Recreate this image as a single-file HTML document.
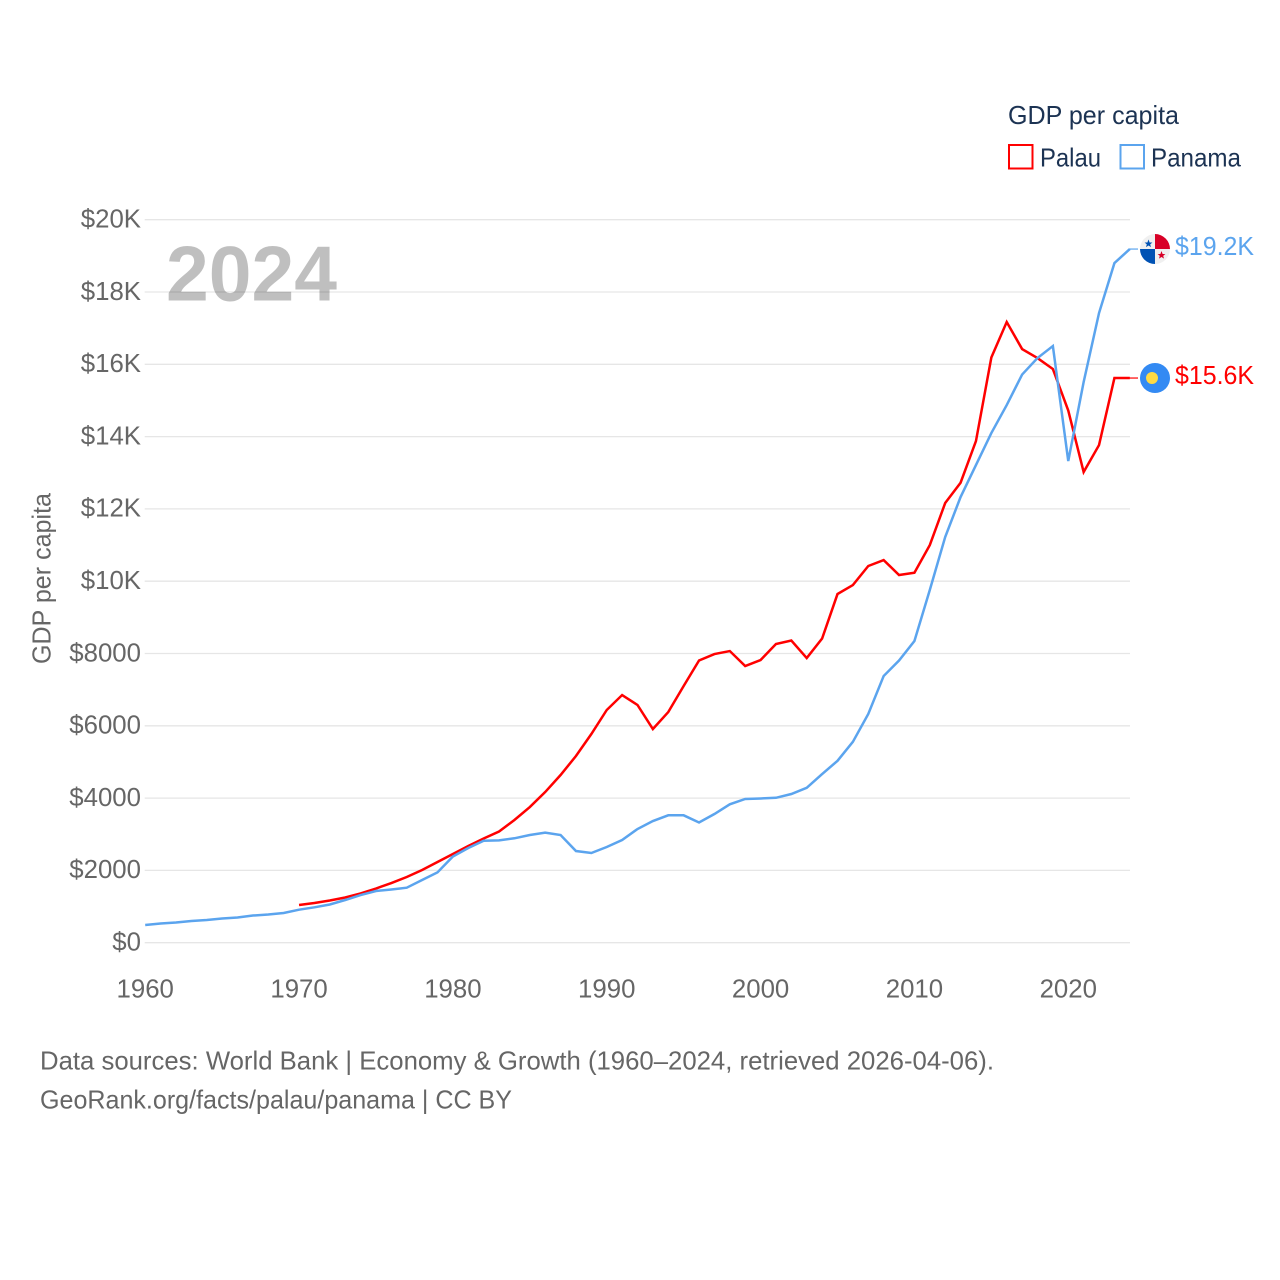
<!DOCTYPE html>
<html lang="en">
<head>
<meta charset="utf-8">
<title>GDP per capita: Palau and Panama</title>
<style>
  html, body { margin: 0; padding: 0; background: #fff; width: 1280px; height: 1280px; overflow: hidden; }
  svg { display: block; }
  text { font-family: "Liberation Sans", sans-serif; }
  .tick { font-size: 25.8px; fill: #666; }
  .legend { font-size: 26px; fill: #1c3353; }
  .foot { font-size: 26px; fill: #666; }
  .end { font-size: 26px; }
</style>
</head>
<body>
<svg id="chart" xmlns="http://www.w3.org/2000/svg" width="1280" height="1280" viewBox="0 0 1280 1280">
  <g id="grid"></g>
  <g id="y-labels"></g>
  <g id="x-labels"></g>

  <text x="166" y="300.5" font-size="78" font-weight="700" fill="#000" fill-opacity="0.25" textLength="171" lengthAdjust="spacingAndGlyphs">2024</text>

  <text class="foot" transform="translate(50.5,664) rotate(-90)" x="0" y="0" textLength="171" lengthAdjust="spacingAndGlyphs">GDP per capita</text>

  <g id="series"></g>

  <g id="flag-panama">
    <circle cx="0" cy="0" r="15" fill="#f0f0f0"/>
    <path d="M0,0V-15A15,15 0 0 1 15,0Z" fill="#d80027"/>
    <path d="M0,0V15A15,15 0 0 1 -15,0Z" fill="#0052b4"/>
    <polygon points="-6.5,-9.5 -5.4,-6.6 -2.6,-6.6 -4.8,-4.7 -4,-1.9 -6.5,-3.5 -9,-1.9 -8.2,-4.7 -10.4,-6.6 -7.6,-6.6" fill="#0052b4"/>
    <polygon points="6.5,2 7.6,4.9 10.4,4.9 8.2,6.8 9,9.6 6.5,8 4,9.6 4.8,6.8 2.6,4.9 5.4,4.9" fill="#d80027"/>
  </g>
  <g id="flag-palau">
    <circle cx="0" cy="0" r="15" fill="#338af3"/>
    <circle cx="-3" cy="0" r="6" fill="#ffda44"/>
  </g>

  <text id="end-panama" class="end" x="1175" y="256" fill="#5ba4ee" textLength="79" lengthAdjust="spacingAndGlyphs">$19.2K</text>
  <text id="end-palau" class="end" x="1175" y="384" fill="#ff0000" textLength="79" lengthAdjust="spacingAndGlyphs">$15.6K</text>

  <g>
    <text class="legend" x="1008" y="124" textLength="171" lengthAdjust="spacingAndGlyphs">GDP per capita</text>
    <g>
      <rect x="1009" y="145" width="23.5" height="23.5" fill="#fff" stroke="#ff0000" stroke-width="2"/>
      <text class="legend" x="1040" y="166.5" textLength="61" lengthAdjust="spacingAndGlyphs">Palau</text>
    </g>
    <g>
      <rect x="1120.5" y="145" width="23.5" height="23.5" fill="#fff" stroke="#5ba4ee" stroke-width="2"/>
      <text class="legend" x="1151" y="166.5" textLength="90" lengthAdjust="spacingAndGlyphs">Panama</text>
    </g>
  </g>

  <text class="foot" x="40" y="1069.5" textLength="954" lengthAdjust="spacingAndGlyphs">Data sources: World Bank | Economy &amp; Growth (1960–2024, retrieved 2026-04-06).</text>
  <text class="foot" x="40" y="1108.5" textLength="472" lengthAdjust="spacingAndGlyphs">GeoRank.org/facts/palau/panama | CC BY</text>
</svg>

<script>
const firstYear = 1960;
const lastYear = 2024;
const yTickValues = [0, 2000, 4000, 6000, 8000, 10000, 12000, 14000, 16000, 18000, 20000];
const yTickLabels = ["$0", "$2000", "$4000", "$6000", "$8000", "$10K", "$12K", "$14K", "$16K", "$18K", "$20K"];
const xTickYears = [1960, 1970, 1980, 1990, 2000, 2010, 2020];

const palauStartYear = 1970;
const palauValues = [
  1043, 1098, 1167, 1250, 1361, 1499, 1651, 1817, 2011, 2232,
  2453, 2675, 2882, 3076, 3394, 3753, 4168, 4639, 5164, 5773,
  6437, 6851, 6575, 5911, 6381, 7100, 7806, 7985, 8068, 7654,
  7819, 8262, 8359, 7875, 8414, 9645, 9894, 10420, 10585, 10171,
  10234, 11000, 12162, 12724, 13877, 16187, 17169, 16422, 16173, 15869,
  14721, 13020, 13766, 15620, 15620
];

const panamaStartYear = 1960;
const panamaValues = [
  490, 531, 559, 600, 628, 669, 697, 752, 780, 821,
  913, 979, 1057, 1181, 1319, 1430, 1472, 1521, 1734, 1947,
  2384, 2619, 2821, 2832, 2888, 2979, 3043, 2979, 2536, 2481,
  2647, 2841, 3145, 3366, 3524, 3524, 3325, 3560, 3828, 3975,
  3989, 4008, 4113, 4285, 4666, 5031, 5557, 6326, 7377, 7806,
  8345, 9756, 11222, 12328, 13213, 14098, 14873, 15716, 16173, 16505,
  13324, 15509, 17418, 18800, 19188
];

const NS = "http://www.w3.org/2000/svg";
const plotLeft = 145.2, plotRight = 1129.8, plotZero = 942.7, plotTop = 219.7, maxValue = 20000;
const xScale = function (year) {
  return plotLeft + (year - firstYear) / (lastYear - firstYear) * (plotRight - plotLeft);
};
const yScale = function (value) {
  return plotZero - value / maxValue * (plotZero - plotTop);
};

const gridGroup = document.getElementById("grid");
const yLabelGroup = document.getElementById("y-labels");
yTickValues.forEach(function (value, i) {
  const line = document.createElementNS(NS, "line");
  
  
  line.setAttribute("x1", plotLeft - 0.5);
  line.setAttribute("x2", 1130);
  line.setAttribute("y1", yScale(value));
  line.setAttribute("y2", yScale(value));
  line.setAttribute("stroke", "#e6e6e6");
  line.setAttribute("stroke-width", "1.3");
  gridGroup.appendChild(line);

  const label = document.createElementNS(NS, "text");
  
  
  label.setAttribute("class", "tick");
  label.setAttribute("x", 141);
  label.setAttribute("y", yScale(value) + 7.8);
  label.setAttribute("text-anchor", "end");
  label.textContent = yTickLabels[i];
  yLabelGroup.appendChild(label);
});

const xLabelGroup = document.getElementById("x-labels");
xTickYears.forEach(function (year) {
  const label = document.createElementNS(NS, "text");
  
  
  label.setAttribute("class", "tick");
  label.setAttribute("x", xScale(year));
  label.setAttribute("y", 997.5);
  label.setAttribute("text-anchor", "middle");
  label.textContent = String(year);
  xLabelGroup.appendChild(label);
});

function pathFor(values, startYear) {
  return values.map(function (v, i) {
    return (i === 0 ? "M" : "L") + xScale(startYear + i).toFixed(2) + "," + yScale(v).toFixed(2);
  }).join(" ");
}

const seriesGroup = document.getElementById("series");

const palauPath = document.createElementNS(NS, "path");


palauPath.setAttribute("d", pathFor(palauValues, palauStartYear));
palauPath.setAttribute("fill", "none");
palauPath.setAttribute("stroke", "#ff0000");
palauPath.setAttribute("stroke-width", "2.5");
seriesGroup.appendChild(palauPath);

const panamaPath = document.createElementNS(NS, "path");


panamaPath.setAttribute("d", pathFor(panamaValues, panamaStartYear));
panamaPath.setAttribute("fill", "none");
panamaPath.setAttribute("stroke", "#5ba4ee");
panamaPath.setAttribute("stroke-width", "2.5");
seriesGroup.appendChild(panamaPath);

const palauEndY = yScale(palauValues[palauValues.length - 1]);
const panamaEndY = yScale(panamaValues[panamaValues.length - 1]);

const palauConnector = document.createElementNS(NS, "line");


palauConnector.setAttribute("x1", 1129);
palauConnector.setAttribute("x2", 1138);
palauConnector.setAttribute("y1", palauEndY);
palauConnector.setAttribute("y2", palauEndY);
palauConnector.setAttribute("stroke", "#ff0000");
palauConnector.setAttribute("stroke-width", "1.2");
seriesGroup.appendChild(palauConnector);

const panamaConnector = document.createElementNS(NS, "line");


panamaConnector.setAttribute("x1", 1129);
panamaConnector.setAttribute("x2", 1138);
panamaConnector.setAttribute("y1", panamaEndY);
panamaConnector.setAttribute("y2", panamaEndY);
panamaConnector.setAttribute("stroke", "#5ba4ee");
panamaConnector.setAttribute("stroke-width", "1.2");
seriesGroup.appendChild(panamaConnector);

document.getElementById("flag-palau").setAttribute("transform", "translate(1155," + palauEndY + ")");
document.getElementById("flag-panama").setAttribute("transform", "translate(1155," + panamaEndY + ")");
document.getElementById("end-palau").setAttribute("y", palauEndY + 6);
document.getElementById("end-panama").setAttribute("y", panamaEndY + 6);
</script>
</body>
</html>
